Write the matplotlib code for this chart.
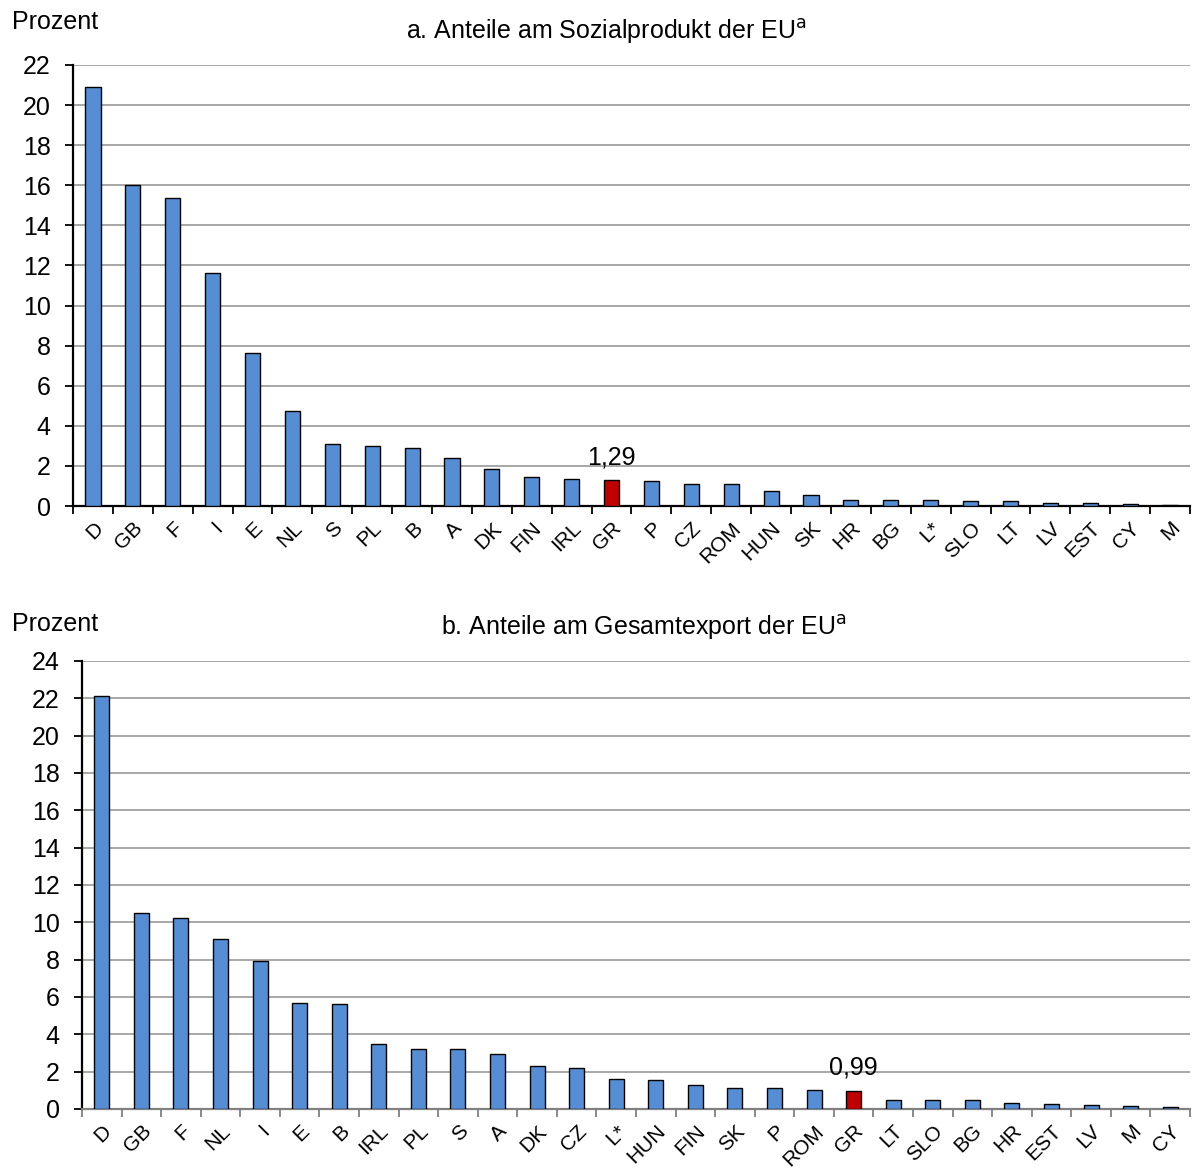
import matplotlib.pyplot as plt
import numpy as np

plt.rcParams['font.family'] = ['Liberation Sans', 'DejaVu Sans']

# panel a: shares of EU GDP
gdp_countries = ['D', 'GB', 'F', 'I', 'E', 'NL', 'S', 'PL', 'B', 'A', 'DK', 'FIN', 'IRL',
                 'GR', 'P', 'CZ', 'ROM', 'HUN', 'SK', 'HR', 'BG', 'L*', 'SLO', 'LT',
                 'LV', 'EST', 'CY', 'M']
gdp_shares = [20.9, 16.0, 15.35, 11.62, 7.63, 4.74, 3.1, 2.98, 2.9, 2.38, 1.85, 1.47, 1.36,
              1.29, 1.24, 1.12, 1.09, 0.74, 0.54, 0.31, 0.31, 0.31, 0.26, 0.26,
              0.16, 0.14, 0.11, 0.07]

# panel b: shares of EU exports
exp_countries = ['D', 'GB', 'F', 'NL', 'I', 'E', 'B', 'IRL', 'PL', 'S', 'A', 'DK', 'CZ',
                 'L*', 'HUN', 'FIN', 'SK', 'P', 'ROM', 'GR', 'LT', 'SLO', 'BG', 'HR',
                 'EST', 'LV', 'M', 'CY']
exp_shares = [22.15, 10.52, 10.22, 9.1, 7.93, 5.66, 5.62, 3.48, 3.24, 3.2, 2.95, 2.3, 2.17,
              1.6, 1.58, 1.27, 1.15, 1.15, 1.03, 0.99, 0.49, 0.46, 0.46, 0.33,
              0.27, 0.22, 0.16, 0.13]

blue = '#558ED5'
red = '#C00000'


def plot_panel(ax, countries, shares, ymax, highlight, label, xaxis_color):
    x = np.arange(len(countries))
    colors = [red if c == highlight else blue for c in countries]
    ax.bar(x, shares, width=0.38, color=colors, edgecolor='black', linewidth=1, zorder=3)
    ax.set_xlim(-0.5, len(countries) - 0.5)
    ax.set_ylim(0, ymax)
    ax.set_yticks(range(0, ymax + 1, 2))
    ax.yaxis.grid(True, color='#A0A0A0', linewidth=1.3, zorder=0)
    ax.set_xticks(x)
    ax.set_xticklabels(countries, rotation=45, ha='right', rotation_mode='anchor', fontsize=15)
    ax.set_xticks(np.arange(-0.5, len(countries), 1), minor=True)
    ax.tick_params(axis='x', which='major', length=0, pad=9)
    ax.tick_params(axis='x', which='minor', length=6, width=1.3, direction='out',
                   color=xaxis_color)
    ax.tick_params(axis='y', labelsize=18, length=6, width=1.3, pad=10)
    for s in ['top', 'right']:
        ax.spines[s].set_visible(False)
    ax.spines['left'].set_linewidth(1.6)
    ax.spines['bottom'].set_linewidth(1.6)
    ax.spines['bottom'].set_color(xaxis_color)
    i = countries.index(highlight)
    ax.annotate(label, (x[i], shares[i]), xytext=(0, 8), textcoords='offset points',
                ha='center', va='bottom', fontsize=18)


fig = plt.figure(figsize=(12.03, 11.7), dpi=100)
ax1 = fig.add_axes([73 / 1203, 1 - 506 / 1170, 1117 / 1203, 441 / 1170])
ax2 = fig.add_axes([82 / 1203, 1 - 1109 / 1170, 1108 / 1203, 448 / 1170])

plot_panel(ax1, gdp_countries, gdp_shares, 22, 'GR', '1,29', 'black')
plot_panel(ax2, exp_countries, exp_shares, 24, 'GR', '0,99', '#808080')

fig.text(606 / 1203, 1 - 32 / 1170, 'a. Anteile am Sozialprodukt der EU$^{\\mathrm{a}}$',
         fontsize=18, ha='center', va='center')
fig.text(644 / 1203, 1 - 628 / 1170, 'b. Anteile am Gesamtexport der EU$^{\\mathrm{a}}$',
         fontsize=18, ha='center', va='center')
fig.text(12 / 1203, 1 - 22 / 1170, 'Prozent', fontsize=18, va='center')
fig.text(12 / 1203, 1 - 624 / 1170, 'Prozent', fontsize=18, va='center')

fig.savefig('out.png', dpi=100)
